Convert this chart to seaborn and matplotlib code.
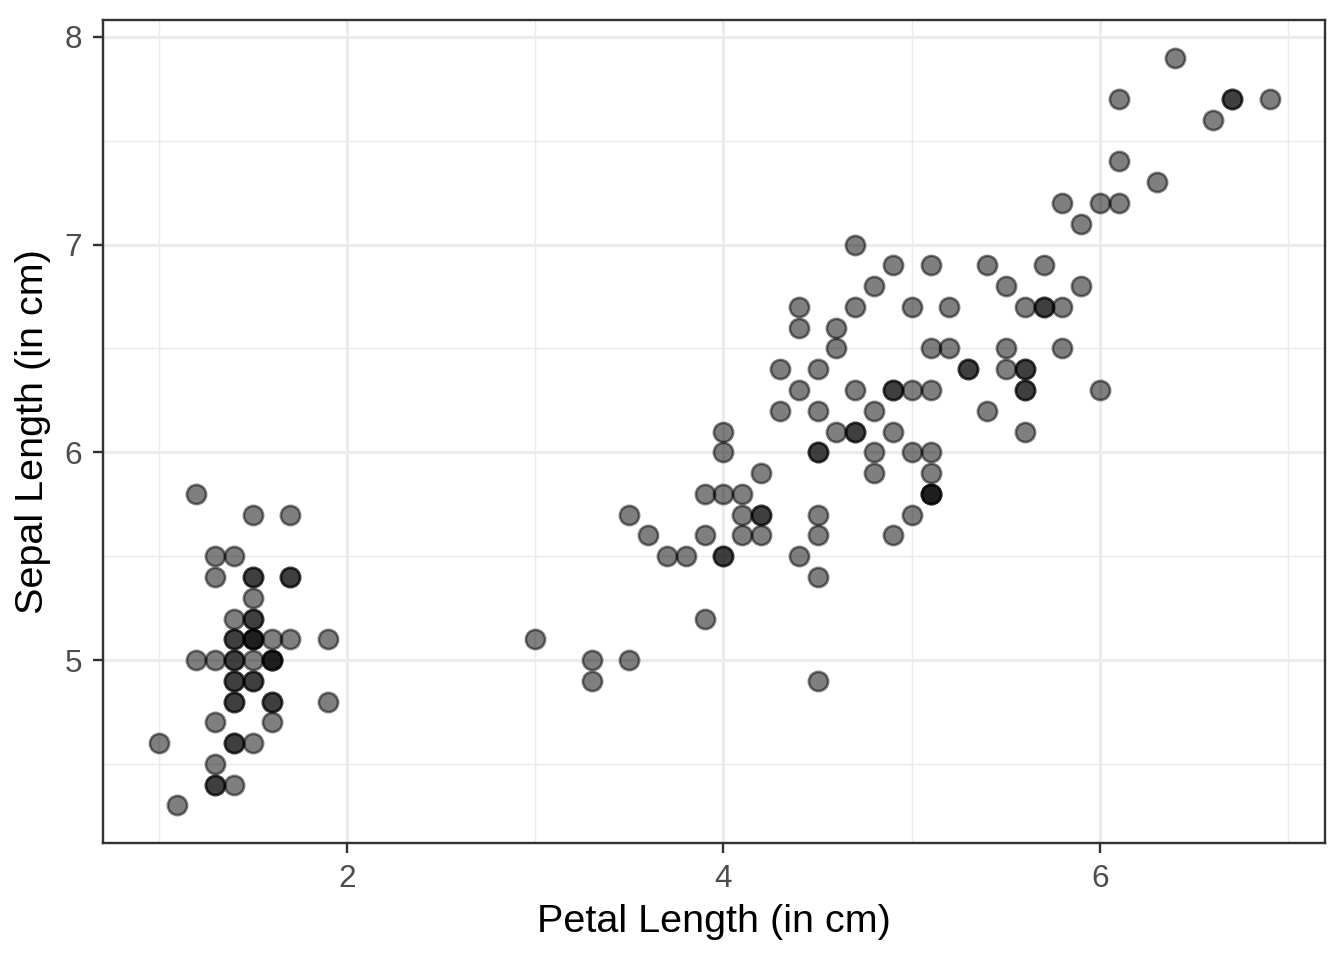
"""Iris: sepal length against petal length, ggplot theme_bw look."""

import matplotlib.pyplot as plt
import pandas as pd
import seaborn as sns
from matplotlib.ticker import MultipleLocator

petal_length = [
    1.4, 1.4, 1.3, 1.5, 1.4, 1.7, 1.4, 1.5, 1.4, 1.5,
    1.5, 1.6, 1.4, 1.1, 1.2, 1.5, 1.3, 1.4, 1.7, 1.5,
    1.7, 1.5, 1.0, 1.7, 1.9, 1.6, 1.6, 1.5, 1.4, 1.6,
    1.6, 1.5, 1.5, 1.4, 1.5, 1.2, 1.3, 1.4, 1.3, 1.5,
    1.3, 1.3, 1.3, 1.6, 1.9, 1.4, 1.6, 1.4, 1.5, 1.4,
    4.7, 4.5, 4.9, 4.0, 4.6, 4.5, 4.7, 3.3, 4.6, 3.9,
    3.5, 4.2, 4.0, 4.7, 3.6, 4.4, 4.5, 4.1, 4.5, 3.9,
    4.8, 4.0, 4.9, 4.7, 4.3, 4.4, 4.8, 5.0, 4.5, 3.5,
    3.8, 3.7, 3.9, 5.1, 4.5, 4.5, 4.7, 4.4, 4.1, 4.0,
    4.4, 4.6, 4.0, 3.3, 4.2, 4.2, 4.2, 4.3, 3.0, 4.1,
    6.0, 5.1, 5.9, 5.6, 5.8, 6.6, 4.5, 6.3, 5.8, 6.1,
    5.1, 5.3, 5.5, 5.0, 5.1, 5.3, 5.5, 6.7, 6.9, 5.0,
    5.7, 4.9, 6.7, 4.9, 5.7, 6.0, 4.8, 4.9, 5.6, 5.8,
    6.1, 6.4, 5.6, 5.1, 5.6, 6.1, 5.6, 5.5, 4.8, 5.4,
    5.6, 5.1, 5.1, 5.9, 5.7, 5.2, 5.0, 5.2, 5.4, 5.1,
]

sepal_length = [
    5.1, 4.9, 4.7, 4.6, 5.0, 5.4, 4.6, 5.0, 4.4, 4.9,
    5.4, 4.8, 4.8, 4.3, 5.8, 5.7, 5.4, 5.1, 5.7, 5.1,
    5.4, 5.1, 4.6, 5.1, 4.8, 5.0, 5.0, 5.2, 5.2, 4.7,
    4.8, 5.4, 5.2, 5.5, 4.9, 5.0, 5.5, 4.9, 4.4, 5.1,
    5.0, 4.5, 4.4, 5.0, 5.1, 4.8, 5.1, 4.6, 5.3, 5.0,
    7.0, 6.4, 6.9, 5.5, 6.5, 5.7, 6.3, 4.9, 6.6, 5.2,
    5.0, 5.9, 6.0, 6.1, 5.6, 6.7, 5.6, 5.8, 6.2, 5.6,
    5.9, 6.1, 6.3, 6.1, 6.4, 6.6, 6.8, 6.7, 6.0, 5.7,
    5.5, 5.5, 5.8, 6.0, 5.4, 6.0, 6.7, 6.3, 5.6, 5.5,
    5.5, 6.1, 5.8, 5.0, 5.6, 5.7, 5.7, 6.2, 5.1, 5.7,
    6.3, 5.8, 7.1, 6.3, 6.5, 7.6, 4.9, 7.3, 6.7, 7.2,
    6.5, 6.4, 6.8, 5.7, 5.8, 6.4, 6.5, 7.7, 7.7, 6.0,
    6.9, 5.6, 7.7, 6.3, 6.7, 7.2, 6.2, 6.1, 6.4, 7.2,
    7.4, 7.9, 6.4, 6.3, 6.1, 7.7, 6.3, 6.4, 6.0, 6.9,
    6.7, 6.9, 5.8, 6.8, 6.7, 6.7, 6.3, 6.5, 6.2, 5.9,
]

X_TICKS = [2, 4, 6]
Y_TICKS = [5, 6, 7, 8]


def main() -> None:
    data = pd.DataFrame({"petal_length": petal_length, "sepal_length": sepal_length})

    sns.set_theme(style="white")
    plt.rcParams["font.family"] = ["Liberation Sans", "DejaVu Sans"]

    fig = plt.figure(figsize=(7, 5), dpi=192)
    ax = fig.add_axes([0.0766, 0.122, 0.9094, 0.857])

    sns.scatterplot(
        data=data,
        x="petal_length",
        y="sepal_length",
        ax=ax,
        color="black",
        alpha=0.5,
        s=52,
        edgecolor="black",
        linewidth=1.0,
        zorder=3,
    )

    # ggplot-style 5% padding on both axes
    x_span = max(petal_length) - min(petal_length)
    y_span = max(sepal_length) - min(sepal_length)
    ax.set_xlim(min(petal_length) - 0.05 * x_span, max(petal_length) + 0.05 * x_span)
    ax.set_ylim(min(sepal_length) - 0.05 * y_span, max(sepal_length) + 0.05 * y_span)

    ax.set_xticks(X_TICKS)
    ax.set_yticks(Y_TICKS)
    ax.xaxis.set_minor_locator(MultipleLocator(1))
    ax.yaxis.set_minor_locator(MultipleLocator(0.5))
    ax.grid(which="major", color="#ebebeb", linewidth=1.1, zorder=0)
    ax.grid(which="minor", color="#ebebeb", linewidth=0.55, zorder=0)
    ax.set_axisbelow(True)

    for spine in ax.spines.values():
        spine.set_color("#333333")
        spine.set_linewidth(0.9)

    ax.tick_params(which="major", length=3.8, width=0.9, color="#333333",
                   labelsize=11.8, labelcolor="#4d4d4d", pad=4, bottom=True, left=True)
    ax.tick_params(which="minor", length=0)

    ax.set_xlabel("Petal Length (in cm)", fontsize=14.8, color="black", labelpad=4)
    ax.set_ylabel("Sepal Length (in cm)", fontsize=14.8, color="black", labelpad=5)

    fig.savefig("out.png", dpi=192)


if __name__ == "__main__":
    main()
